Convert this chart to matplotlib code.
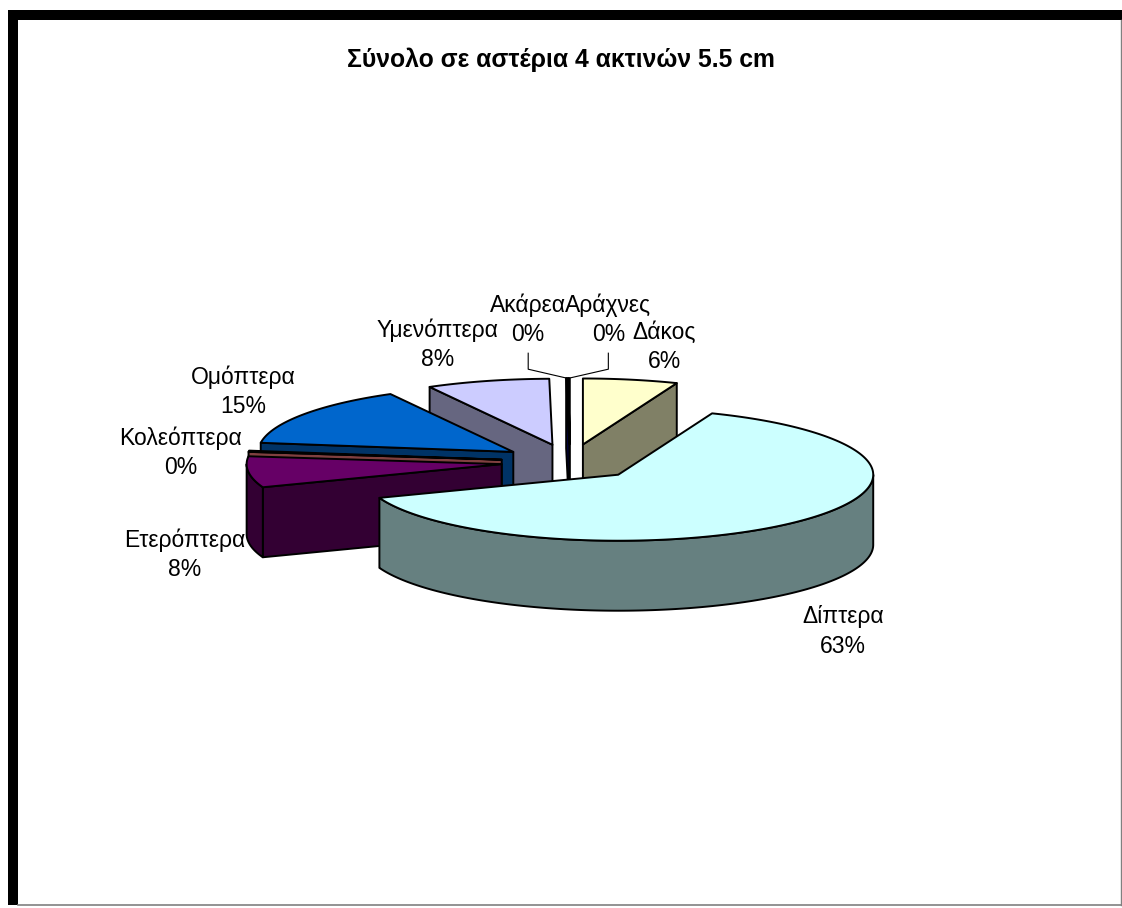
import numpy as np
import matplotlib.pyplot as plt
from matplotlib.patches import Polygon, Rectangle

plt.rcParams['font.family'] = ['Liberation Sans', 'DejaVu Sans']

title = 'Σύνολο σε αστέρια 4 ακτινών 5.5 cm'
names = ['Δάκος', 'Δίπτερα', 'Ετερόπτερα', 'Κολεόπτερα', 'Ομόπτερα',
         'Υμενόπτερα', 'Ακάρεα', 'Αράχνες']
shares = [6.0, 63.3, 7.6, 0.3, 14.8, 7.8, 0.1, 0.1]
top_colors = ['#FFFFCC', '#CCFFFF', '#660066', '#FF8080', '#0066CC',
              '#CCCCFF', '#000080', '#FF00FF']

# label placement tweaks (pixels) and which labels get a leader line
label_nudge = [(9, -3), (-3, 30), (7, 12), (3, 3), (1, -16), (1, -10),
               (-37, -21), (40, -21)]
leader = [False, False, False, False, False, False, True, True]

W, H = 1122, 908
fig = plt.figure(figsize=(W / 100, H / 100), dpi=100)
ax = fig.add_axes([0, 0, 1, 1])
ax.set_xlim(0, W)
ax.set_ylim(H, 0)
ax.axis('off')

# 3d pie geometry: centre of the top face, half axes of the ellipse, thickness
cx, cy = 570, 462
A, B, T = 255, 66, 70
explode = 0.27


def to_screen(px, py, z):
    return cx + A * px, cy - B * py + T * (1 - z)


def rim_pts(a0, a1, ox, oy, z):
    n = max(2, int(abs(a1 - a0)) * 2 + 2)
    t = np.radians(np.linspace(a0, a1, n))
    xs, ys = to_screen(ox + np.sin(t), oy + np.cos(t), z)
    return list(zip(xs, ys))


def side_color(c):
    rgb = np.array(plt.matplotlib.colors.to_rgb(c))
    return tuple(rgb * 0.5)


total = sum(shares)
ends = np.cumsum(shares) / total * 360
starts = np.concatenate([[0], ends[:-1]])
mids = (starts + ends) / 2

order = sorted(range(len(shares)), key=lambda i: -np.cos(np.radians(mids[i])))
for rank, i in enumerate(order):
    t0, t1, m = starts[i], ends[i], np.radians(mids[i])
    ox, oy = explode * np.sin(m), explode * np.cos(m)
    apex_top = to_screen(ox, oy, 1)
    apex_bot = to_screen(ox, oy, 0)
    dark = side_color(top_colors[i])
    faces = []
    # radial faces
    if np.cos(np.radians(t0 - 90)) < 0:
        faces.append(([apex_top] + rim_pts(t0, t0, ox, oy, 1)[:1]
                      + rim_pts(t0, t0, ox, oy, 0)[:1] + [apex_bot], dark))
    if np.cos(np.radians(t1 + 90)) < 0:
        faces.append(([apex_top] + rim_pts(t1, t1, ox, oy, 1)[:1]
                      + rim_pts(t1, t1, ox, oy, 0)[:1] + [apex_bot], dark))
    # outer wall, front half only
    lo, hi = max(t0, 90), min(t1, 270)
    if hi > lo:
        faces.append((rim_pts(lo, hi, ox, oy, 1) + rim_pts(hi, lo, ox, oy, 0), dark))
    # top face
    faces.append(([apex_top] + rim_pts(t0, t1, ox, oy, 1), top_colors[i]))
    for k, (pts, col) in enumerate(faces):
        ax.add_patch(Polygon(pts, closed=True, facecolor=col, edgecolor='black',
                             linewidth=1.4, joinstyle='round',
                             zorder=10 + rank * 5 + k))

# data labels: name on one line, percentage below it
renderer = fig.canvas.get_renderer()
gap = 10
line_gap = 29.5
for i in range(len(shares)):
    m = np.radians(mids[i])
    ox, oy = explode * np.sin(m), explode * np.cos(m)
    z = 1 if np.cos(m) >= 0 else 0
    rx, ry = to_screen(ox + np.sin(m), oy + np.cos(m), z)
    dx, dy = A * np.sin(m), -B * np.cos(m)
    norm = np.hypot(dx, dy)
    dx, dy = dx / norm, dy / norm
    pct = f'{shares[i]:.0f}%'
    probe = ax.text(0, 0, f'{names[i]}\n{pct}', fontsize=16.5, linespacing=1.45)
    bb = probe.get_window_extent(renderer)
    w, h = bb.width, bb.height
    probe.remove()
    lx = rx + dx * (gap + w / 2) + label_nudge[i][0]
    ly = ry + dy * (gap + h / 2) + label_nudge[i][1]
    ax.text(lx, ly - line_gap / 2, names[i], ha='center', va='center',
            fontsize=16.5, zorder=100)
    ax.text(lx, ly + line_gap / 2, pct, ha='center', va='center',
            fontsize=16.5, zorder=100)
    if leader[i]:
        yb = ly + h / 2 + 6
        ax.plot([lx, lx, rx], [yb, yb + 16, ry], color='black', lw=0.8,
                zorder=99)

ax.text(W / 2, 60, title, ha='center', va='center', fontsize=17.8,
        fontweight='bold', zorder=100)

# chart frame
ax.add_patch(Rectangle((8, 10), W - 8, 10, facecolor='black', edgecolor='none'))
ax.add_patch(Rectangle((8, 10), 10, H - 13, facecolor='black', edgecolor='none'))
ax.plot([18, W], [905, 905], color='#808080', lw=1.2)
ax.plot([W - 1, W - 1], [20, 905], color='#808080', lw=1.0)

fig.savefig('out.png', dpi=100)
